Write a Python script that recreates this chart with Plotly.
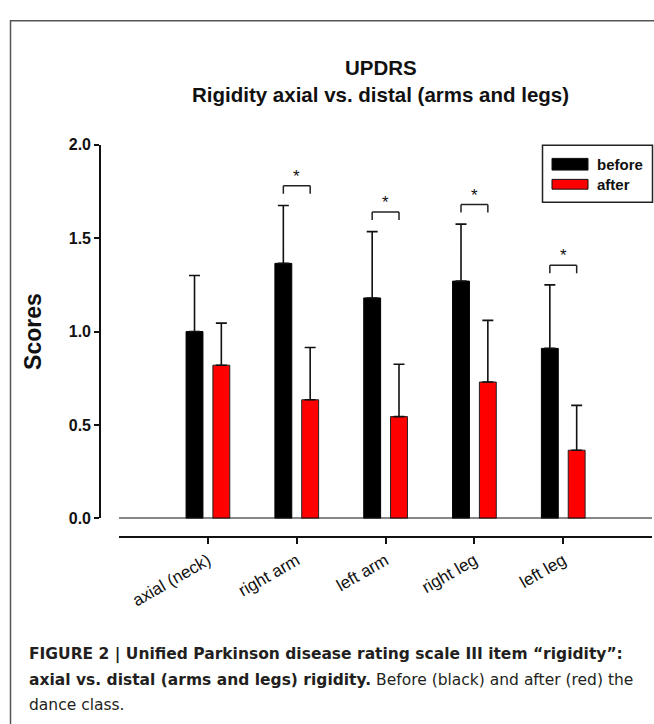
import plotly.graph_objects as go

# ---------------- data ----------------
categories = ["axial (neck)", "right arm", "left arm", "right leg", "left leg"]
before = [1.00, 1.365, 1.18, 1.27, 0.91]
before_sd = [0.30, 0.31, 0.355, 0.305, 0.34]
after = [0.82, 0.635, 0.545, 0.73, 0.365]
after_sd = [0.225, 0.28, 0.28, 0.33, 0.24]
significant = [False, True, True, True, True]
y_ticks = [0.0, 0.5, 1.0, 1.5, 2.0]
series_names = ["before", "after"]
series_colors = ["#000000", "#ff0000"]

title_lines = ["UPDRS", "Rigidity axial vs. distal (arms and legs)"]
caption_lines = [
    "<b>FIGURE 2 | Unified Parkinson disease rating scale III item \u201crigidity\u201d:</b>",
    "<b>axial vs. distal (arms and legs) rigidity.</b> Before (black) and after (red) the",
    "dance class.",
]

# ---------------- layout helpers ----------------
W, H = 654, 724


def px(x):
    return x / W


def py(y):
    return 1 - y / H


FONT = "Liberation Sans, Arial, sans-serif"
CAP_FONT = "DejaVu Sans, sans-serif"
BAR_W = 0.19
OFF_B = -0.245
OFF_A = 0.057

fig = go.Figure()

for name, vals, sds, col, off, lc in [
    (series_names[0], before, before_sd, series_colors[0], OFF_B, "#000000"),
    (series_names[1], after, after_sd, series_colors[1], OFF_A, "#222222"),
]:
    fig.add_trace(go.Bar(
        x=categories, y=vals, name=name, width=BAR_W, offset=off,
        marker=dict(color=col, line=dict(color=lc, width=1)),
        error_y=dict(type="data", array=sds, arrayminus=[0] * len(sds),
                     symmetric=False, color="#111111", thickness=1.6, width=5.5),
        showlegend=False,
    ))

shapes = []
annotations = []

# zero baseline across plot area
shapes.append(dict(type="line", xref="x domain", yref="y", x0=0, x1=1, y0=0, y1=0,
                   line=dict(color="#111111", width=1.6)))

# significance brackets
for i, sig in enumerate(significant):
    if not sig:
        continue
    top = max(before[i] + before_sd[i], after[i] + after_sd[i]) + 0.105
    bot = top - 0.043
    x0 = i + OFF_B + BAR_W / 2
    x1 = i + OFF_A + BAR_W / 2
    for (a, b, c, d) in [(x0, bot, x0, top), (x0, top, x1, top), (x1, top, x1, bot)]:
        shapes.append(dict(type="line", xref="x", yref="y", x0=a, y0=b, x1=c, y1=d,
                           line=dict(color="#222222", width=1.5)))
    annotations.append(dict(x=i, y=top, xref="x", yref="y", text="*", showarrow=False,
                            yanchor="bottom", xanchor="center", yshift=-2,
                            font=dict(family=FONT, size=17, color="#111111")))

# manual legend
shapes.append(dict(type="rect", xref="paper", yref="paper", x0=px(542.5), x1=px(652.5),
                   y0=py(199), y1=py(140.5), line=dict(color="#222222", width=1.5)))
for k, (yt, yb) in enumerate([(154, 166), (175.5, 185.5)]):
    shapes.append(dict(type="rect", xref="paper", yref="paper", x0=px(552), x1=px(588),
                       y0=py(yb), y1=py(yt), fillcolor=series_colors[k],
                       line=dict(color="#111111", width=1)))
    annotations.append(dict(x=px(595), y=py((yt + yb) / 2), xref="paper", yref="paper",
                            text="<b>%s</b>" % series_names[k], showarrow=False,
                            xanchor="left", yanchor="middle",
                            font=dict(family=FONT, size=15, color="#111111")))

# frame border
shapes.append(dict(type="rect", xref="paper", yref="paper", x0=px(10.5), x1=1.2,
                   y0=-0.2, y1=py(13), line=dict(color="#555555", width=1.5)))

# title
for t, yc in [(title_lines[0], 61), (title_lines[1], 89)]:
    annotations.append(dict(x=px(381), y=py(yc), xref="paper", yref="paper",
                            text="<b>%s</b>" % t, showarrow=False,
                            xanchor="center", yanchor="middle",
                            font=dict(family=FONT, size=20.5, color="#111111")))

# caption
for t, yc in zip(caption_lines, [662, 688, 714]):
    annotations.append(dict(x=px(27), y=py(yc), xref="paper", yref="paper",
                            text=t, showarrow=False, xanchor="left", yanchor="middle",
                            font=dict(family=CAP_FONT, size=15.5, color="#231f20")))

fig.update_layout(
    width=W, height=H,
    margin=dict(l=0, r=0, t=0, b=0),
    paper_bgcolor="white", plot_bgcolor="white",
    barmode="group",
    showlegend=False,
    shapes=shapes,
    annotations=annotations,
    xaxis=dict(
        domain=[px(119), px(652)], range=[-1, 5], type="category",
        anchor="free", position=py(542),
        showline=True, linecolor="#111111", linewidth=1.6,
        ticks="outside", ticklen=6, tickwidth=1.5, tickcolor="#111111",
        tickangle=-30, showgrid=False, zeroline=False,
        tickfont=dict(family=FONT, size=17, color="#111111"),
    ),
    yaxis=dict(
        domain=[py(522.7), py(140)], range=[0, 2],
        anchor="free", position=px(100),
        showline=True, linecolor="#111111", linewidth=1.6,
        ticks="outside", ticklen=5, tickwidth=1.5, tickcolor="#111111",
        tickvals=y_ticks, tickformat=".1f",
        showgrid=False, zeroline=False,
        tickfont=dict(family=FONT, size=16, color="#111111", weight="bold"),
        title=dict(text="<b>Scores</b>", standoff=20,
                   font=dict(family=FONT, size=23, color="#111111")),
    ),
)

# remove the browser's default page margin so the figure fills the window exactly
fig.write_html("out.html", config={"displayModeBar": False},
               post_script="document.body.style.margin='0';")
